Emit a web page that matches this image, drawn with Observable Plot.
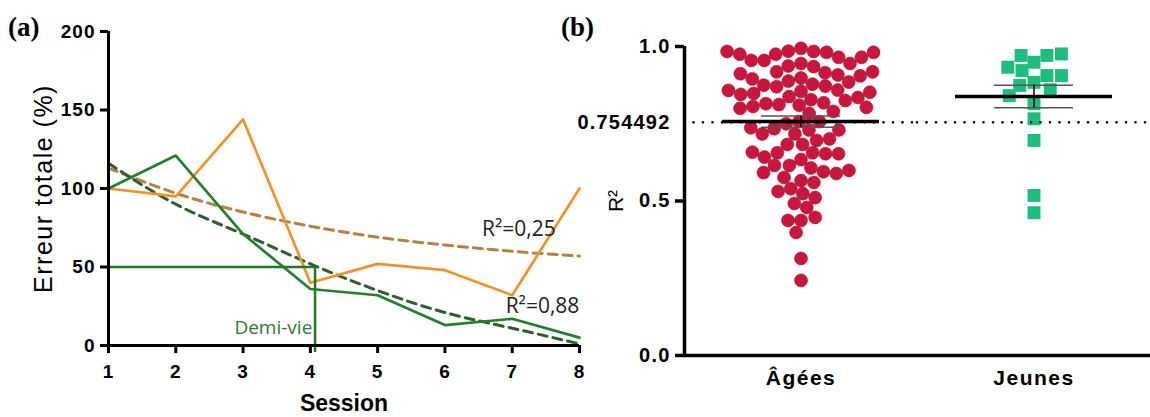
<!DOCTYPE html>
<html><head><meta charset="utf-8">
<script src="https://cdn.jsdelivr.net/npm/d3@7"></script>
<script src="https://cdn.jsdelivr.net/npm/@observablehq/plot@0.6"></script>
<style>
body{margin:0;background:#fff;}
#wrap{position:relative;width:1150px;height:417px;overflow:hidden;background:#fff;}
#pa{position:absolute;left:0;top:0;}
#pb{position:absolute;left:560px;top:0;}
.tag{position:absolute;font-family:"Liberation Serif","Times New Roman",serif;font-weight:bold;font-size:27px;line-height:1;color:#000;}
#pa g[aria-label="x-axis tick label"] text, #pa g[aria-label="y-axis tick label"] text{letter-spacing:1px;}
#pa g[aria-label="y-axis label"] text{letter-spacing:1.5px;}
#pb g[aria-label="y-axis tick label"] text{letter-spacing:1.2px;}
#pb g[aria-label="fx-axis tick label"] text{letter-spacing:1.5px;}
</style></head><body>
<div id="wrap">
  <div id="pa"></div>
  <div id="pb"></div>
  <div class="tag" style="left:8px;top:14px">(a)</div>
  <div class="tag" style="left:561px;top:14px">(b)</div>
</div>
<script>
// ---------- Panel (a) data ----------
const sessions = [1, 2, 3, 4, 5, 6, 7, 8];
const erreurOrange = [100, 95, 144, 40, 52, 48, 32, 100];
const erreurVert = [100, 121, 71, 36, 32, 13, 17, 5];
const tendanceOrange = [113, 97, 85, 76, 69, 64, 60, 57];
const tendanceVert = [116, 90, 71, 52, 35, 21, 11, 1];
const demiVie = 4.07;
const yTicksA = [0, 50, 100, 150, 200];
const annotR2 = [
  {label: "R²=0,25", session: 7.1, valeur: 74},
  {label: "R²=0,88", session: 7.45, valeur: 25}
];
const annotDemiVie = [{label: "Demi-vie", session: 3.45, valeur: 11}];

// ---------- Panel (b) data ----------
const groupes = ["Âgées", "Jeunes"];
const r2Agees = [
  0.994, 0.985,
  0.984, 0.981, 0.975, 0.965, 0.955, 0.945, 0.937, 0.935, 0.945, 0.955, 0.965, 0.975, 0.981, 0.984,
  0.918, 0.915, 0.908, 0.898, 0.888, 0.878, 0.872, 0.870, 0.875, 0.885, 0.895, 0.905, 0.912, 0.918,
  0.859, 0.855, 0.848, 0.838, 0.828, 0.818, 0.812, 0.810, 0.815, 0.825, 0.835, 0.845, 0.852, 0.858,
  0.806, 0.800, 0.783, 0.757, 0.750, 0.757, 0.790, 0.803,
  0.734, 0.730, 0.717, 0.696, 0.683, 0.683, 0.701, 0.717, 0.730, 0.737,
  0.656, 0.656, 0.653, 0.634, 0.615, 0.607, 0.615, 0.642, 0.653, 0.658,
  0.595, 0.589, 0.566, 0.540, 0.560, 0.576, 0.592, 0.599,
  0.524, 0.492, 0.479, 0.511, 0.531,
  0.437, 0.437, 0.447, 0.398, 0.314, 0.243
];
const r2Jeunes = [
  0.949, 0.971, 0.971, 0.976, 0.922, 0.933, 0.884, 0.906, 0.906,
  0.874, 0.860, 0.841, 0.815, 0.766, 0.696, 0.518, 0.462
];
const seuil = 0.754492;
const yTicksB = [0, 0.5, 1];

// ---------- Panel (a) ----------
const rowsA = sessions.map((s, i) => ({
  session: s, orange: erreurOrange[i], vert: erreurVert[i],
  tOrange: tendanceOrange[i], tVert: tendanceVert[i]
}));

const plotA = Plot.plot({
  width: 600, height: 417,
  marginLeft: 108, marginRight: 21, marginTop: 31, marginBottom: 72,
  style: {fontFamily: "Liberation Sans, Arial, sans-serif", color: "#000", background: "transparent", overflow: "visible"},
  x: {domain: [1, 8]},
  y: {domain: [0, 200]},
  marks: [
    Plot.line(rowsA, {x: "session", y: "tOrange", curve: "natural", stroke: "#b9813f", strokeWidth: 3, strokeDasharray: "9,6"}),
    Plot.line(rowsA, {x: "session", y: "tVert", curve: "natural", stroke: "#2f5f30", strokeWidth: 3, strokeDasharray: "9,6"}),
    Plot.line(rowsA, {x: "session", y: "orange", stroke: "#f0922b", strokeWidth: 2.7}),
    Plot.line(rowsA, {x: "session", y: "vert", stroke: "#23802a", strokeWidth: 2.7}),
    Plot.ruleY([50], {x1: 1, x2: demiVie, stroke: "#1f7a24", strokeWidth: 2.5}),
    Plot.ruleX([demiVie], {y1: 50, y2: 0, insetBottom: -7, stroke: "#1f7a24", strokeWidth: 2.5}),
    Plot.text(annotR2, {x: "session", y: "valeur", text: "label", fill: "#222", fontFamily: "Open Sans", fontSize: 21}),
    Plot.text(annotDemiVie, {x: "session", y: "valeur", text: "label", fill: "#2e7a33", fontFamily: "Open Sans", fontSize: 19}),
    Plot.ruleY([0], {stroke: "#000", strokeWidth: 3}),
    Plot.ruleX([1], {stroke: "#000", strokeWidth: 3}),
    Plot.axisX({ticks: sessions, tickFormat: d3.format("d"), tickSize: 8, tickPadding: 11, strokeWidth: 3, fontSize: 19, fontWeight: "bold", label: null}),
    Plot.axisX({ticks: [], label: "Session", labelArrow: "none", labelAnchor: "center", labelOffset: 65, fontSize: 23, fontWeight: "bold"}),
    Plot.axisY({ticks: yTicksA, tickFormat: d3.format("d"), tickSize: 8, tickPadding: 5, strokeWidth: 3, fontSize: 19, fontWeight: "bold", label: null}),
    Plot.axisY({ticks: [], label: "Erreur totale (%)", labelArrow: "none", labelAnchor: "center", labelOffset: 74, fontSize: 25})
  ]
});
document.getElementById("pa").append(plotA);

// ---------- Panel (b) ----------
const pointsAgees = r2Agees.map(v => ({groupe: "Âgées", r2: v}));
const pointsJeunes = r2Jeunes.map(v => ({groupe: "Jeunes", r2: v}));
const stats = groupes.map(g => {
  const v = g === "Âgées" ? r2Agees : r2Jeunes;
  const m = d3.mean(v);
  const se = d3.deviation(v) / Math.sqrt(v.length);
  return {groupe: g, moyenne: m, bas: m - se, haut: m + se};
});

const plotB = Plot.plot({
  width: 590, height: 417,
  marginLeft: 123, marginRight: 0, marginTop: 46, marginBottom: 62,
  style: {fontFamily: "Liberation Sans, Arial, sans-serif", color: "#000", background: "transparent", overflow: "visible"},
  fx: {domain: groupes, padding: 0, label: null, axis: null},
  x: {domain: [-1, 1], axis: null},
  y: {domain: [0, 1]},
  marks: [
    Plot.dot(pointsAgees, Plot.dodgeX({anchor: "middle", padding: 0}, {fx: "groupe", y: "r2", r: 6.5, fill: "#c8163c", stroke: "#a8102e", strokeWidth: 0.6})),
    Plot.dot(pointsJeunes, Plot.dodgeX({anchor: "middle", padding: 0}, {fx: "groupe", y: "r2", r: 7.3, symbol: "square", fill: "#1dbd7c"})),
    Plot.ruleY([seuil], {stroke: "#000", strokeWidth: 2.6, strokeDasharray: "0,9.5", strokeLinecap: "round"}),
    Plot.tickY(stats, {fx: "groupe", y: "moyenne", stroke: "#000", strokeWidth: 3.5, insetLeft: 38, insetRight: 38}),
    Plot.tickY(stats, {fx: "groupe", y: "bas", stroke: "#555", strokeWidth: 1.5, insetLeft: 77, insetRight: 77}),
    Plot.tickY(stats, {fx: "groupe", y: "haut", stroke: "#555", strokeWidth: 1.5, insetLeft: 77, insetRight: 77}),
    Plot.ruleX(stats, {fx: "groupe", x: () => 0, y1: "bas", y2: "haut", stroke: "#000", strokeWidth: 1.5}),
    Plot.ruleY([0], {stroke: "#000", strokeWidth: 3.5}),
    Plot.ruleX([-1], {fx: () => "Âgées", y1: 0, y2: 1, stroke: "#000", strokeWidth: 3.5}),
    Plot.axisY({ticks: yTicksB, tickFormat: d3.format(".1f"), tickSize: 9, tickPadding: 5, strokeWidth: 3.5, fontSize: 20, fontWeight: "bold", label: null}),
    Plot.axisY({ticks: [seuil], tickFormat: d => String(d), tickSize: 0, tickPadding: 14, fontSize: 20, fontWeight: "bold", label: null}),
    Plot.axisY({ticks: [], label: "R²", labelArrow: "none", labelAnchor: "center", labelOffset: 76, fontSize: 21}),
    Plot.axisFx({anchor: "bottom", tickSize: 0, tickPadding: 15, fontSize: 21, fontWeight: "bold", label: null})
  ]
});
document.getElementById("pb").append(plotB);
</script>
</body></html>
